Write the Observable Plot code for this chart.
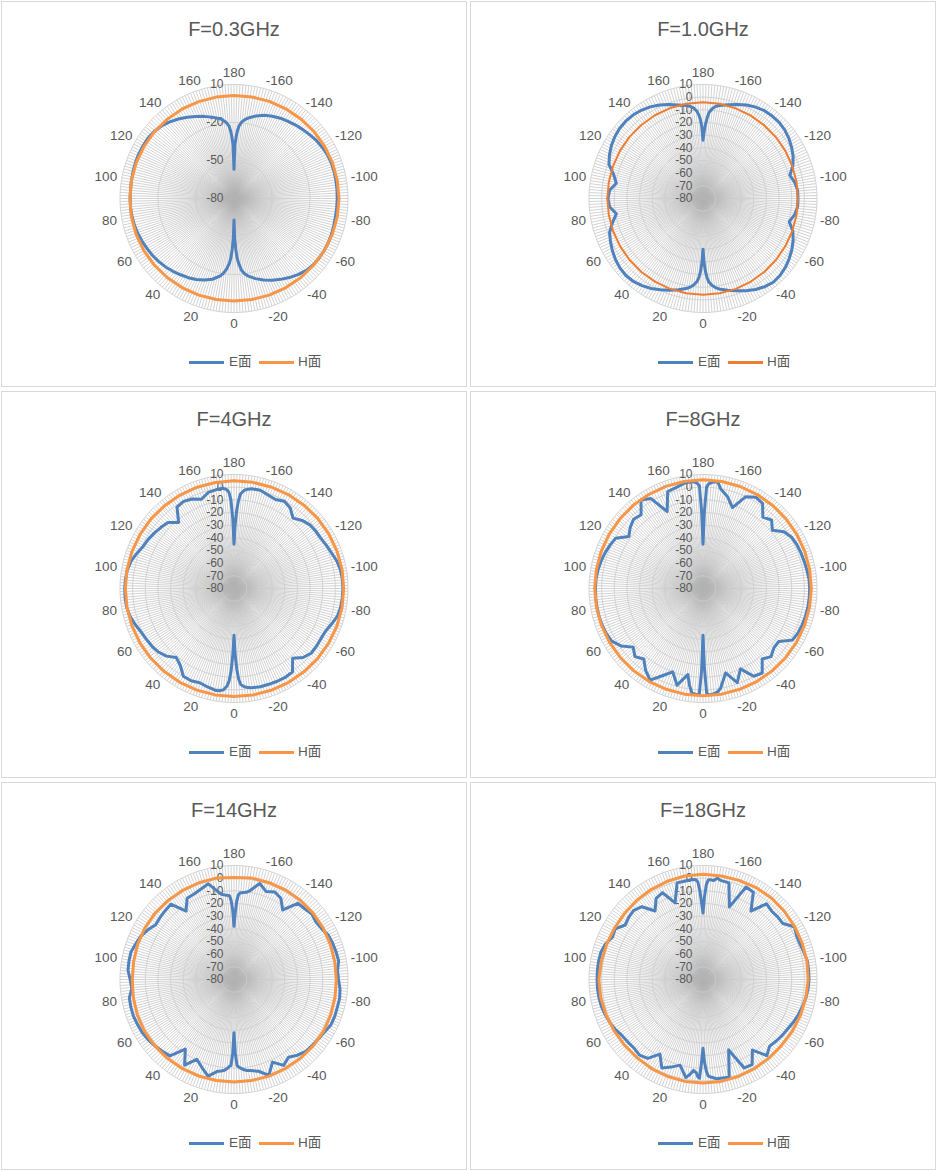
<!DOCTYPE html>
<html><head><meta charset="utf-8">
<script src="https://cdn.jsdelivr.net/npm/d3@7"></script>
<script src="https://cdn.jsdelivr.net/npm/@observablehq/plot@0.6"></script>
<style>
html,body{margin:0;padding:0;background:#fff;}
body{width:937px;height:1171px;position:relative;overflow:hidden;font-family:"Liberation Sans",Arial,"Noto Sans CJK SC",sans-serif;}
.panel{position:absolute;box-sizing:border-box;border:1px solid #d9d9d9;width:466px;background:#fff;overflow:hidden;}
.title{position:absolute;left:0;width:464px;top:13.5px;height:26px;line-height:26px;text-align:center;font-size:20px;color:#595959;}
.chart{position:absolute;left:0;top:47.5px;}
.sw{position:absolute;top:358.5px;width:35px;height:3px;}
.lt{position:absolute;top:351px;height:18px;line-height:18px;font-size:13.5px;color:#595959;font-family:"Liberation Sans","Noto Sans CJK SC",sans-serif;}
</style>
</head><body>
<script>
// ---- data ----
const titles = ["F=0.3GHz","F=1.0GHz","F=4GHz","F=8GHz","F=14GHz","F=18GHz"];
const seriesNames = ["E面","H面"];
const angleTicks = [180,-160,-140,-120,-100,-80,-60,-40,-20,0,20,40,60,80,100,120,140,160];
const radialTicksCoarse = [10,-20,-50,-80];
const radialTicksFine = [10,0,-10,-20,-30,-40,-50,-60,-70,-80];

// angles (deg) of the E-plane samples
const anglesE = [-180,-179,-178,-177,-176,-174,-172,-170,
 -165,-160,-155,-150,-145,-140,-135,-130,-125,-120,-115,-110,-105,-100,-95,-90,-85,-80,-75,-70,-65,-60,-55,-50,-45,-40,-35,-30,-25,-20,-15,
 -10,-8,-6,-4,-3,-2,-1,0,1,2,3,4,6,8,10,
 15,20,25,30,35,40,45,50,55,60,65,70,75,80,85,90,95,100,105,110,115,120,125,130,135,140,145,150,155,160,165,
 170,172,174,176,177,178,179,180];
// angles (deg) of the H-plane samples
const anglesH = [-180,-170,-160,-150,-140,-130,-120,-110,-100,-90,-80,-70,-60,-50,-40,-30,-20,-10,0,10,20,30,40,50,60,70,80,90,100,110,120,130,140,150,160,170,180];

const E03 = [-57,-38,-31,-26,-22.5,-19,-17,-15.5,
 -12.5,-10,-8.3,-6.8,-5.6,-4.3,-3.1,-1.8,-0.4,0.6,1.4,1.8,1.8,1.7,1.6,1.5,1.4,1.4,1.6,2,2.2,2.2,2,1.6,0.5,-1.5,-3.8,-6.3,-8.8,-11.5,-14.5,
 -18,-20,-23,-29,-33,-40,-48,-63,-48,-40,-33,-29,-24,-20.5,-18,
 -14,-11.5,-9.5,-7.8,-6.5,-5,-3.6,-2.5,-1.5,-0.8,0,0.8,1.4,1.8,2,2,2,2.2,2.5,2.8,3,3,3,2.3,1,-1,-3.4,-6,-8.5,-11,-13.5,
 -16,-17.5,-19.5,-22.5,-26,-31,-38,-57];
const H03 = [1.3,1.4,1.6,1.8,2.0,2.3,2.5,2.7,2.8,2.9,2.8,2.6,2.4,2.0,1.7,1.4,1.2,1.0,1.0,1.0,1.2,1.4,1.7,2.0,2.2,2.3,2.3,2.2,2.2,2.2,2.1,2.0,1.8,1.6,1.4,1.3,1.3];

const E10 = [-34,-27,-21,-16,-12,-8.5,-6.5,-5.5,
 -3.3,-1,1.5,3.3,4.6,5,5,4.2,2.8,0.8,-1.5,-4.5,-9,-6.5,-5,-5,-5,-6.5,-9.5,-4.5,-1.5,1,3,4.8,6,6.3,5,3,0.3,-2.5,-5,
 -7.5,-9,-11,-14,-17,-22,-29,-40,-29,-22,-17.5,-14.5,-11.5,-9.5,-8,
 -5.5,-3,-0.5,2,4,5.5,6,5.5,4.3,2.6,0.6,-1.5,-6,-10.5,-6,-5,-6,-10.5,-7,-1,1.5,3.5,5,6,6.3,6,5,3.5,1.5,-1,-3.5,
 -5.5,-6.5,-8,-11,-13.5,-17,-23,-34];
const H10 = [-4,-4.1,-4.3,-4.5,-4.7,-4.8,-4.9,-5,-5,-5,-5,-5,-4.9,-4.7,-4.5,-4.3,-4.1,-4,-4,-4,-4.1,-4.2,-4.3,-4.4,-4.5,-4.5,-4.5,-4.5,-4.5,-4.5,-4.4,-4.3,-4.2,-4.1,-4,-4,-4];

const E4 = [-45,-30,-18,-10,-5,-2,-0.8,0,
 0.3,-1.5,-2.5,-0.5,-2.5,-7.5,-4,-1.8,-1.2,-0.8,0.5,2,4,5.3,5.8,6,5.8,5.5,4.5,2,-0.3,-0.8,-0.5,-0.5,-3,-8,0.5,1,0.8,0.5,0.3,
 -0.5,-1,-2,-4,-8,-16,-28,-43,-28,-15,-7,-3,0.5,1.5,1.8,
 0.5,-0.8,0.3,0,-6,-9,-4.5,-2,-0.8,0,1,3,5,6,6.3,6.3,6,5.5,4,1.5,-1,-2,-3.4,-4.8,-6.3,-12,-1.5,-0.6,-2,-5,-1.5,
 -0.7,-0.5,-0.5,-2,-4,-10,-25,-45];
const H4 = [5,5.1,5.3,5.6,5.9,6.2,6.4,6.5,6.6,6.6,6.6,6.5,6.3,6.1,5.9,5.7,5.5,5.4,5.3,5.3,5.4,5.5,5.6,5.7,5.8,5.8,5.8,5.8,5.8,5.7,5.6,5.5,5.3,5.2,5.1,5,5];

const E8 = [-45,-20,0,2.5,3.5,4.8,4.8,0,
 -5,-12,0,3.2,2,-6.5,-3.5,-8.5,-2,0.8,1.8,2.3,2.7,3.3,4,4.2,4.2,4.1,3.8,3.4,2.8,1.5,-7,-7,-4,-7.3,1.5,0,-10,-1,-11,
 0,2.5,3.5,4,4,3,-18,-43,-15,3.6,3.8,3.7,3.2,-3,-11,
 -1,-10,-4,3.5,-1,-7.3,-4,-8,-1,3.2,4.2,4.7,5,5,5,4.9,4.8,4.2,3.3,2.3,1,-0.5,-8.5,-5,-2.6,-4,5.3,2,-13,1.5,2.5,
 4.4,4.8,4.8,4,3,1,-20,-45];
const H8 = [5.8,5.8,5.7,5.6,5.6,5.5,5.5,5.5,5.5,5.5,5.4,5.3,5.2,5.0,4.9,4.8,4.7,4.7,4.7,4.7,4.7,4.8,4.9,5.0,5.2,5.3,5.4,5.5,5.5,5.5,5.6,5.6,5.7,5.7,5.8,5.8,5.8];

const E14 = [-38,-28,-18,-13,-11.5,-11,-10.5,-9,
 -1.5,-6,-3.7,-6,-13,-1.5,-1,0.3,-1,0,2.3,3,3.5,3.9,2,2.5,4,4.7,4.5,4.7,4.5,2.7,1.5,0.8,0.2,-2,-5,-1.7,-8,0.5,-5,
 -7,-7.5,-8.5,-10,-11,-12,-22,-38,-22,-12,-11.5,-10,-8,-7,-6.5,
 -1,-6,-10.5,-2,-13,-1.3,0,1.5,2.8,3.7,4,4.5,4.3,3.9,1,2,4,4.2,4.2,2.5,1.2,-1.5,-4.5,-3.8,-3.2,-2.4,-14,-6,-5.5,-4,-1.8,
 -10,-12.3,-13,-13.5,-14,-18,-26,-38];
const H14 = [0.5,1.3,1.3,1.5,1.6,1.5,1.3,1,0.8,0.8,1,1.3,1.7,1.6,1.4,1.2,1.2,1,1,1,1.2,1.3,1.5,1.6,1.7,1.3,0.8,0.3,0.5,1,1.3,1.4,1.3,1.2,1.3,1.3,0.5];

const E18 = [-27.5,-15,-5,-1.5,-1,-1.5,0.7,-0.5,
 -1,-19,0.5,-0.5,-14,-2,-3.5,-3,-3,3.3,1.6,1.6,2.5,3.7,3.7,3.7,3.3,2.5,1.5,0.3,-1,-2.5,-3.4,-4.5,-5.6,-1.6,-12,-2.4,-3,-20.8,-0.2,
 -0.8,-0.8,-2,-3,-4,-8,-15,-25.7,-15,-2,-3,-6,-7.8,-4,-1.5,
 -10,-6.4,-3,-12,-4,-2,-3.2,-2.8,-2.3,-0.5,1,2,3,3.4,3.6,3.6,3.7,3.7,3.4,2,-1.1,0,-5,-3.5,-2.7,-5,-14,-6,-4.4,-15.6,-1,
 -1,-0.8,-0.6,-1,-3,-10,-20,-27.5];
const H18 = [3,3,3.3,3.8,4,3.8,3.6,3.4,3.3,3,2.5,2,1.5,1,1,1.2,1.5,1.7,1.7,1.7,1.5,1.2,0.8,0.8,1,1.5,2,2.2,1.5,1,0.8,1,1.5,2,2.5,3,3];

const eSeries = [E03,E10,E4,E8,E14,E18];
const hSeries = [H03,H10,H4,H8,H14,H18];

// ---- layout / style ----
const panelBoxes = [[1,1,386],[470,1,386],[1,391,387],[470,391,387],[1,782,388],[470,782,388]];
const blue = "#4F81BD";
const orange = ["#F79646","#ED7D31","#F79646","#F79646","#F79646","#F79646"];
const hWidth = [3,2,3,3,3,3];
const R = 114;            // px radius of outer ring
const RMIN = -80, RMAX = 10;
const k = (RMAX - RMIN) / R; // dB per px
const W = 464, H = 296, CX = 231.5, CY = 148;
const FONT = '"Liberation Sans", Arial, sans-serif';

const rad = d => d * Math.PI / 180;
const rho = v => Math.max(0, v - RMIN);
const px = (t, r) => r * Math.sin(rad(t + 180));
const py = (t, r) => r * Math.cos(rad(t + 180));

const spokeAngles = d3.range(0, 360, 1.5);
const circleAngles = d3.range(0, 361, 1.5);

function makePanel(i) {
  const [lx, ty, ph] = panelBoxes[i];
  const div = document.createElement("div");
  div.className = "panel";
  div.style.left = lx + "px"; div.style.top = ty + "px"; div.style.height = ph + "px";
  const t = document.createElement("div");
  t.className = "title"; t.textContent = titles[i];
  div.appendChild(t);

  const radialTicks = i === 0 ? radialTicksCoarse : radialTicksFine;
  const rings = radialTicks.filter(v => v > RMIN);
  const ringPts = rings.flatMap(v => circleAngles.map(a => ({v, a})));
  const eData = anglesE.map((a, j) => ({a, v: eSeries[i][j]}));
  const hData = anglesH.map((a, j) => ({a, v: hSeries[i][j]}));
  const halfW = tk => (String(Math.abs(tk)).length * 7.4 + (tk < 0 ? 4.4 : 0)) / 2;

  const svg = Plot.plot({
    width: W, height: H, margin: 0,
    style: {fontFamily: FONT, fontSize: "13px", color: "#595959", background: "transparent", overflow: "visible"},
    x: {domain: [-CX * k, (W - CX) * k], axis: null},
    y: {domain: [-(H - CY) * k, CY * k], axis: null},
    marks: [
      Plot.link(spokeAngles, {
        x1: () => 0, y1: () => 0,
        x2: a => (RMAX - RMIN) * Math.sin(rad(a)), y2: a => (RMAX - RMIN) * Math.cos(rad(a)),
        stroke: "#b4b4b4", strokeWidth: 0.6
      }),
      Plot.line(ringPts, {
        x: d => rho(d.v) * Math.sin(rad(d.a)), y: d => rho(d.v) * Math.cos(rad(d.a)),
        z: "v", stroke: "#cfcfcf", strokeWidth: 0.9
      }),
      Plot.text(angleTicks, {
        x: tk => px(tk, (R + 5 + halfW(tk)) * k),
        y: tk => py(tk, (R + 5 + 6.5) * k),
        text: tk => String(tk), textAnchor: "middle", fill: "#595959",
        fontSize: 13.5, fontFamily: FONT
      }),
      Plot.text(radialTicks, {
        x: () => 0, y: v => rho(v), dx: -10.5,
        text: v => String(v), textAnchor: "end", fill: "#595959",
        fontSize: 12, fontFamily: FONT
      }),
      Plot.line(eData, {
        x: d => px(d.a, rho(d.v)), y: d => py(d.a, rho(d.v)),
        stroke: blue, strokeWidth: 3, strokeLinejoin: "round"
      }),
      Plot.line(hData, {
        x: d => px(d.a, rho(d.v)), y: d => py(d.a, rho(d.v)),
        stroke: orange[i], strokeWidth: hWidth[i], strokeLinejoin: "round"
      })
    ]
  });
  const holder = document.createElement("div");
  holder.className = "chart";
  holder.appendChild(svg);
  div.appendChild(holder);

  const legendItems = [[187, 227, blue, seriesNames[0]], [257, 296, orange[i], seriesNames[1]]];
  for (const [sx, tx, col, name] of legendItems) {
    const sw = document.createElement("span");
    sw.className = "sw"; sw.style.left = sx + "px"; sw.style.background = col;
    const lt = document.createElement("span");
    lt.className = "lt"; lt.style.left = tx + "px"; lt.textContent = name;
    div.appendChild(sw); div.appendChild(lt);
  }
  document.body.appendChild(div);
}
for (let i = 0; i < 6; i++) makePanel(i);
</script>
</body></html>
